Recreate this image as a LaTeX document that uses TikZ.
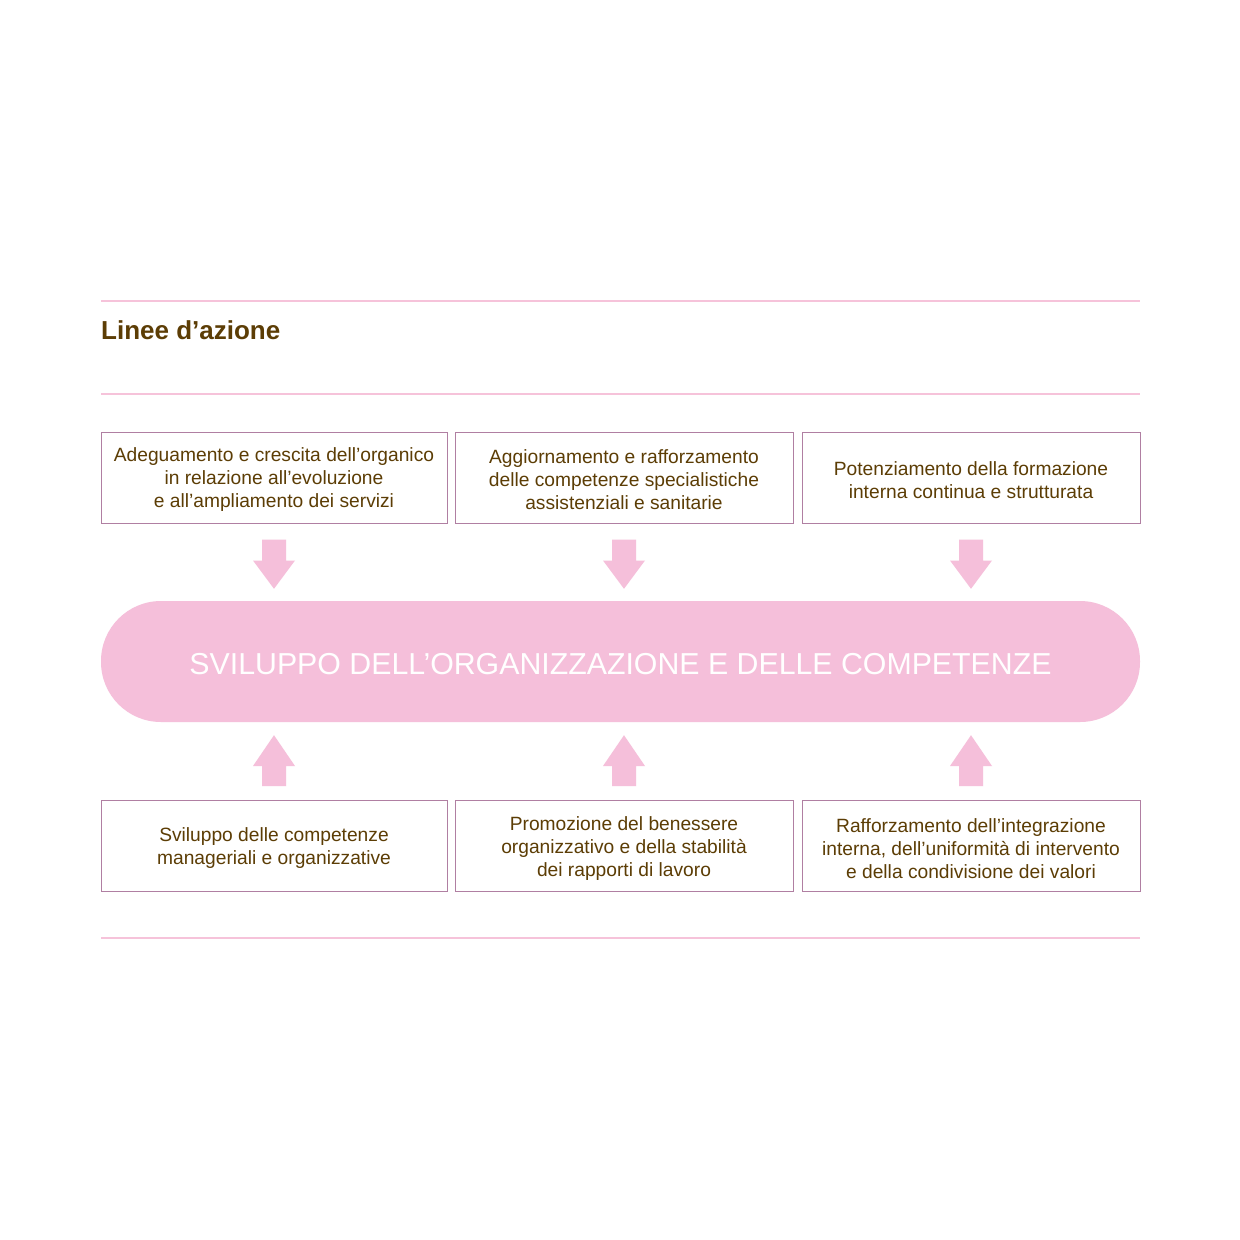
\documentclass[tikz,border=0pt]{standalone}
\usepackage{fontspec}
\setmainfont{Liberation Sans}
\usetikzlibrary{calc}
\definecolor{rulepink}{HTML}{F6C3DA}
\definecolor{pillpink}{HTML}{F5BFDA}
\definecolor{brown}{HTML}{5C3D05}
\definecolor{mauve}{HTML}{B07FA2}
\tikzset{
  rulel/.style={draw=rulepink, line width=2pt},
  infobox/.style={draw=mauve, line width=1pt, rectangle, minimum height=91pt, inner sep=0pt},
  infotext/.style={align=center, text=brown, font=\fontsize{19.2}{23}\selectfont, inner sep=0pt},
  blockarrow/.style={fill=pillpink, draw=none},
}
% y axis points down: positive offsets move down
\newcommand\dnarr[2]{% from node #1 down to node #2
  \fill[blockarrow] ($(#1.south)+(-12,16)$) -- ($(#1.south)+(12,16)$) -- ($(#1.south)+(12,37)$) -- ($(#1.south)+(21,37)$) -- ($(#1.south |- #2.north)+(0,-12)$) -- ($(#1.south)+(-21,37)$) -- ($(#1.south)+(-12,37)$) -- cycle;}
\newcommand\uparr[2]{% from node #1 up to node #2
  \fill[blockarrow] ($(#1.north)+(-12,-14)$) -- ($(#1.north)+(12,-14)$) -- ($(#1.north)+(12,-34)$) -- ($(#1.north)+(21,-34)$) -- ($(#1.north |- #2.south)+(0,13)$) -- ($(#1.north)+(-21,-34)$) -- ($(#1.north)+(-12,-34)$) -- cycle;}
% box with its text: name, x, y, width, text
\newcommand\mkbox[5]{%
  \node[infobox, minimum width=#4pt] (#1) at (#2,#3) {};
  \node[infotext] (#1txt) at ($(#1.center)+(0,2.5)$) {#5};}
\begin{document}
\begin{tikzpicture}[x=1pt,y=-1pt]
\useasboundingbox (0,0) rectangle (1240,1240);
\fill[white] (0,0) rectangle (1240,1240);
% rules
\coordinate (r1a) at (101,301); \coordinate (r1b) at (1140,301);
\coordinate (r2a) at (101,394); \coordinate (r2b) at (1140,394);
\coordinate (r3a) at (101,938); \coordinate (r3b) at (1140,938);
\draw[rulel] (r1a) -- (r1b);
\draw[rulel] (r2a) -- (r2b);
\draw[rulel] (r3a) -- (r3b);
% title
\node[anchor=base west, inner sep=0pt, text=brown, font=\fontsize{26}{30}\selectfont\bfseries] (title) at (101,339) {Linee d’azione};
% top boxes
\mkbox{t1}{274}{477.5}{346}{Adeguamento e crescita dell’organico\\in relazione all’evoluzione\\e all’ampliamento dei servizi}
\mkbox{t2}{624}{477.5}{338}{Aggiornamento e rafforzamento\\delle competenze specialistiche\\assistenziali e sanitarie}
\mkbox{t3}{971}{477.5}{338}{Potenziamento della formazione\\interna continua e strutturata}
% pill
\node[fill=pillpink, rounded corners=60pt, minimum width=1039pt, minimum height=121pt, inner sep=0pt] (pill) at (620.5,661.5) {};
\node[inner sep=0pt, text=white, font=\fontsize{30.3}{34}\selectfont] (pilltxt) at ($(pill.center)+(0,2.5)$) {SVILUPPO DELL’ORGANIZZAZIONE E DELLE COMPETENZE};
% bottom boxes
\mkbox{b1}{274}{846}{346}{Sviluppo delle competenze\\manageriali e organizzative}
\mkbox{b2}{624}{846}{338}{Promozione del benessere\\organizzativo e della stabilità\\dei rapporti di lavoro}
\mkbox{b3}{971}{846}{338}{Rafforzamento dell’integrazione\\interna, dell’uniformità di intervento\\e della condivisione dei valori}
% arrows
\dnarr{t1}{pill}
\dnarr{t2}{pill}
\dnarr{t3}{pill}
\uparr{b1}{pill}
\uparr{b2}{pill}
\uparr{b3}{pill}
\end{tikzpicture}
\end{document}
